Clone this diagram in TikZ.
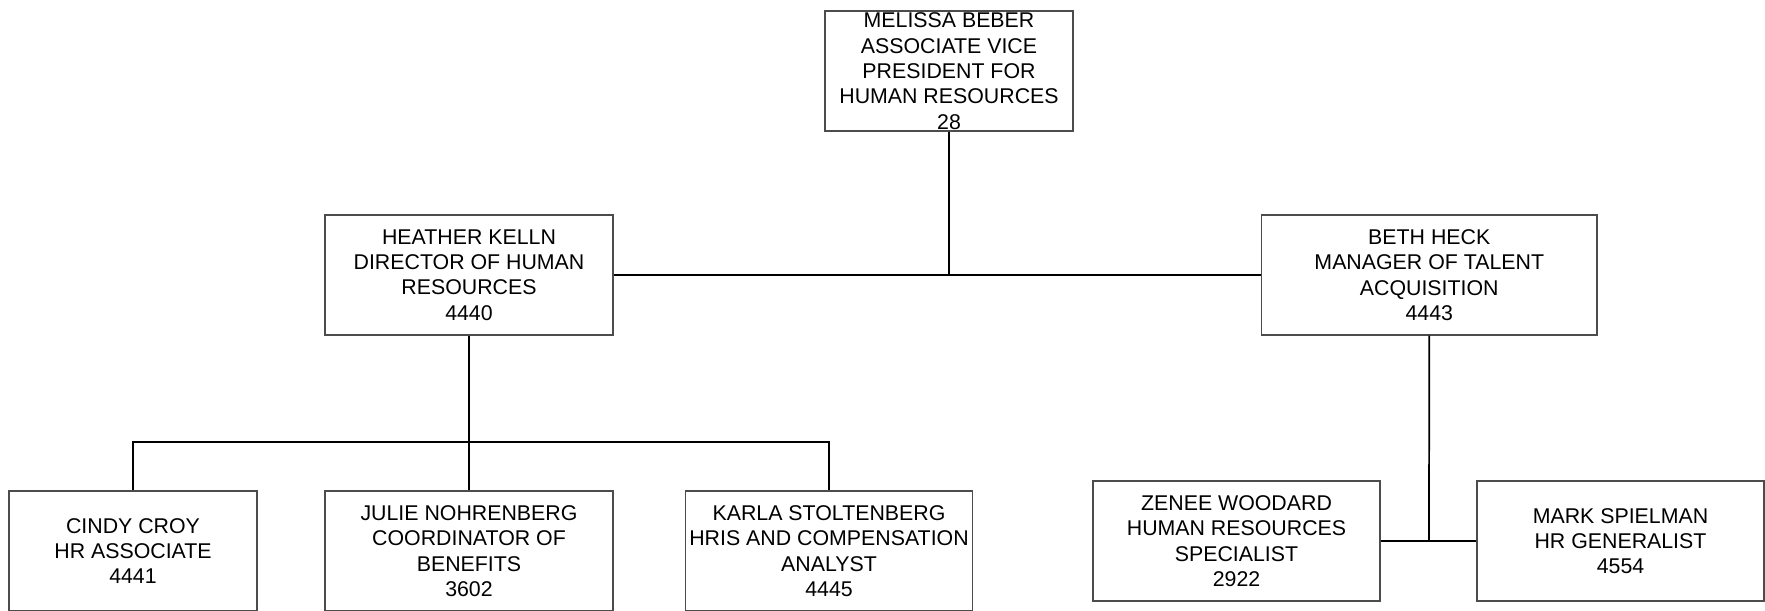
\documentclass[tikz,border=0pt]{standalone}
\usepackage{fontspec}
\setmainfont{Liberation Sans}
\begin{document}
\begin{tikzpicture}[x=0.75pt,y=-0.75pt,
  orgbox/.style={draw=gray!60!black, line width=0.9pt, fill=white, rectangle,
    minimum height=90pt, inner sep=0pt, align=center,
    font=\fontsize{16}{19}\selectfont},
  wA/.style={minimum width=186pt},
  wB/.style={minimum width=216pt},
  wC/.style={minimum width=251.6pt},
  wD/.style={minimum width=215.25pt},
  link/.style={draw=black, line width=1.3pt}]
\clip (0,0) rectangle (1765,610);
\fill[white] (0,0) rectangle (1765,610);
% nodes
\node[orgbox,wA] (top) at (949,71) {MELISSA BEBER\\ASSOCIATE VICE\\PRESIDENT FOR\\HUMAN RESOURCES\\28};
\node[orgbox,wB] (heather) at (469,275) {HEATHER KELLN\\DIRECTOR OF HUMAN\\RESOURCES\\4440};
\node[orgbox,wC] (beth) at (1429.25,275) {BETH HECK\\MANAGER OF TALENT\\ACQUISITION\\4443};
\node[orgbox,wA] (cindy) at (133,551) {CINDY CROY\\HR ASSOCIATE\\4441};
\node[orgbox,wB] (julie) at (469,551) {JULIE NOHRENBERG\\COORDINATOR OF\\BENEFITS\\3602};
\node[orgbox,wD] (karla) at (829,551) {KARLA STOLTENBERG\\HRIS AND COMPENSATION\\ANALYST\\4445};
\node[orgbox,wD] (zenee) at (1236.5,541) {ZENEE WOODARD\\HUMAN RESOURCES\\SPECIALIST\\2922};
\node[orgbox,wD] (mark) at (1620.5,541) {MARK SPIELMAN\\HR GENERALIST\\4554};
% junction coordinates
\coordinate (jtop) at (949,275);
\coordinate (jleft) at (469,442);
\coordinate (jright) at (1429,541);
% connectors
\draw[link] (heather.east) -- (beth.west);
\draw[link] (top.south) -- (jtop);
\draw[link] (heather.south) -- (jleft);
\draw[link] (cindy.north) -- (cindy.north |- jleft) -- (karla.north |- jleft) -- (karla.north);
\draw[link] (julie.north) -- (jleft);
\draw[link] (beth.south) -- (jright);
\draw[link] (zenee.east) -- (mark.west);
\end{tikzpicture}
\end{document}
